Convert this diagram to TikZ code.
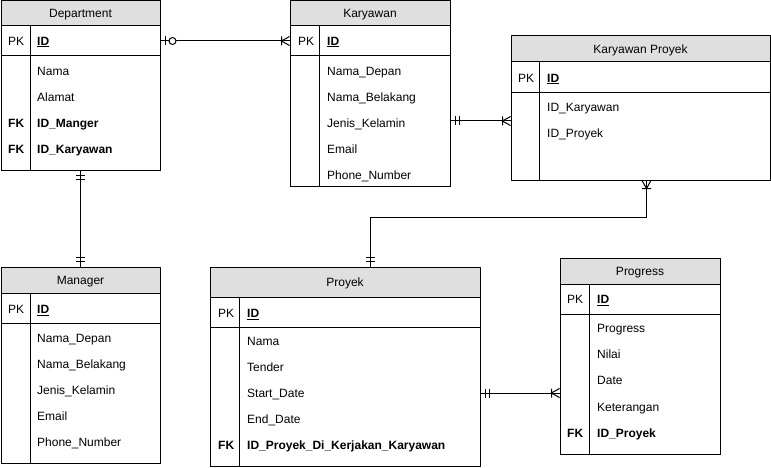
\documentclass[tikz,border=0pt]{standalone}
\usepackage{fontspec}
\setmainfont{Liberation Sans}
\usetikzlibrary{positioning,decorations.markings}

\begin{document}
\begin{tikzpicture}[x=1pt, y=-1pt, every node/.style={
    rectangle,
    inner sep=0pt,
    font=\fontsize{12}{14}\selectfont
},
tablehead/.style={draw, line width=1pt, fill=gray!25, text height=8.6pt, text depth=0pt},
tablebox/.style={draw, line width=1pt, fill=white},
field/.style={anchor=west, text height=8.6pt, text depth=0pt},
relline/.style={draw, line width=1pt},
onestart/.style={postaction={decorate, decoration={markings, mark=at position 0 with {\draw[line width=1pt] (5pt,-4.5pt) -- (5pt,4.5pt) (9pt,-4.5pt) -- (9pt,4.5pt);}}}},
oneend/.style={postaction={decorate, decoration={markings, mark=at position 1 with {\draw[line width=1pt] (-5pt,-4.5pt) -- (-5pt,4.5pt) (-9pt,-4.5pt) -- (-9pt,4.5pt);}}}},
zeroonestart/.style={postaction={decorate, decoration={markings, mark=at position 0 with {\draw[line width=1pt] (5pt,-4.5pt) -- (5pt,4.5pt); \draw[line width=1pt, fill=white] (12pt,0pt) circle (3.5pt);}}}},
manyend/.style={postaction={decorate, decoration={markings, mark=at position 1 with {\draw[line width=1pt] (-8pt,-4.5pt) -- (-8pt,4.5pt) (0pt,-4.5pt) -- (-8pt,0pt) -- (0pt,4.5pt);}}}},
manystart/.style={postaction={decorate, decoration={markings, mark=at position 0 with {\draw[line width=1pt] (8pt,-4.5pt) -- (8pt,4.5pt) (0pt,-4.5pt) -- (8pt,0pt) -- (0pt,4.5pt);}}}}
]
    \useasboundingbox (0,0) rectangle (771,468);

    %department
    \node (dept_head) [tablehead, minimum width=159pt, minimum height=25.5pt, shift={(80.5,13.25)}]
    {
        Department
    };
    \node (dept_pk) [tablebox, minimum width=159pt, minimum height=30pt, shift={(80.5,41)}] {};
    \node (dept_body) [tablebox, minimum width=159pt, minimum height=114pt, shift={(80.5,113)}] {};
    \draw[line width=1pt] ([xshift=30pt]dept_pk.north west) -- ([xshift=30pt]dept_body.south west);
    \node (dept_pk_key) [field, shift={(8,41)}] {PK};
    \node (dept_id) [field, shift={(37,41)}] {\textbf{\underline{ID}}};
    \node (dept_nama) [field, shift={(37,71)}] {Nama};
    \node (dept_alamat) [field, shift={(37,97)}] {Alamat};
    \node (dept_fk1) [field, shift={(8,123)}] {\textbf{FK}};
    \node (dept_manager) [field, shift={(37,123)}] {\textbf{ID\_Manger}};
    \node (dept_fk2) [field, shift={(8,149)}] {\textbf{FK}};
    \node (dept_karyawan) [field, shift={(37,149)}] {\textbf{ID\_Karyawan}};

    %karyawan
    \node (kary_head) [tablehead, minimum width=160pt, minimum height=25.5pt, shift={(370,13.25)}]
    {
        Karyawan
    };
    \node (kary_pk) [tablebox, minimum width=160pt, minimum height=30pt, shift={(370,41)}] {};
    \node (kary_body) [tablebox, minimum width=160pt, minimum height=130pt, shift={(370,121)}] {};
    \draw[line width=1pt] ([xshift=30pt]kary_pk.north west) -- ([xshift=30pt]kary_body.south west);
    \node (kary_pk_key) [field, shift={(298,41)}] {PK};
    \node (kary_id) [field, shift={(327,41)}] {\textbf{\underline{ID}}};
    \node (kary_depan) [field, shift={(327,71)}] {Nama\_Depan};
    \node (kary_belakang) [field, shift={(327,97)}] {Nama\_Belakang};
    \node (kary_kelamin) [field, shift={(327,123)}] {Jenis\_Kelamin};
    \node (kary_email) [field, shift={(327,149)}] {Email};
    \node (kary_phone) [field, shift={(327,175)}] {Phone\_Number};

    %karyawan proyek
    \node (kp_head) [tablehead, minimum width=259pt, minimum height=26pt, shift={(640.5,49)}]
    {
        Karyawan Proyek
    };
    \node (kp_pk) [tablebox, minimum width=259pt, minimum height=31pt, shift={(640.5,77.5)}] {};
    \node (kp_body) [tablebox, minimum width=259pt, minimum height=87pt, shift={(640.5,136.5)}] {};
    \draw[line width=1pt] ([xshift=29pt]kp_pk.north west) -- ([xshift=29pt]kp_body.south west);
    \node (kp_pk_key) [field, shift={(518,78)}] {PK};
    \node (kp_id) [field, shift={(547,78)}] {\textbf{\underline{ID}}};
    \node (kp_karyawan) [field, shift={(547,107)}] {ID\_Karyawan};
    \node (kp_proyek) [field, shift={(547,133)}] {ID\_Proyek};

    %manager
    \node (mgr_head) [tablehead, minimum width=159pt, minimum height=26pt, shift={(80.5,280)}]
    {
        Manager
    };
    \node (mgr_pk) [tablebox, minimum width=159pt, minimum height=30pt, shift={(80.5,308)}] {};
    \node (mgr_body) [tablebox, minimum width=159pt, minimum height=140pt, shift={(80.5,393)}] {};
    \draw[line width=1pt] ([xshift=30pt]mgr_pk.north west) -- ([xshift=30pt]mgr_body.south west);
    \node (mgr_pk_key) [field, shift={(8,309)}] {PK};
    \node (mgr_id) [field, shift={(37,309)}] {\textbf{\underline{ID}}};
    \node (mgr_depan) [field, shift={(37,338)}] {Nama\_Depan};
    \node (mgr_belakang) [field, shift={(37,364)}] {Nama\_Belakang};
    \node (mgr_kelamin) [field, shift={(37,390)}] {Jenis\_Kelamin};
    \node (mgr_email) [field, shift={(37,416)}] {Email};
    \node (mgr_phone) [field, shift={(37,442)}] {Phone\_Number};

    %proyek
    \node (proyek_head) [tablehead, minimum width=270pt, minimum height=30pt, shift={(345,282)}]
    {
        Proyek
    };
    \node (proyek_pk) [tablebox, minimum width=270pt, minimum height=30pt, shift={(345,312)}] {};
    \node (proyek_body) [tablebox, minimum width=270pt, minimum height=139pt, shift={(345,396.5)}] {};
    \draw[line width=1pt] ([xshift=30pt]proyek_pk.north west) -- ([xshift=30pt]proyek_body.south west);
    \node (proyek_pk_key) [field, shift={(218,313)}] {PK};
    \node (proyek_id) [field, shift={(247,313)}] {\textbf{\underline{ID}}};
    \node (proyek_nama) [field, shift={(247,341)}] {Nama};
    \node (proyek_tender) [field, shift={(247,367)}] {Tender};
    \node (proyek_start) [field, shift={(247,393)}] {Start\_Date};
    \node (proyek_end) [field, shift={(247,419)}] {End\_Date};
    \node (proyek_fk) [field, shift={(218,445)}] {\textbf{FK}};
    \node (proyek_karyawan) [field, shift={(247,445)}] {\textbf{ID\_Proyek\_Di\_Kerjakan\_Karyawan}};

    %progress
    \node (prog_head) [tablehead, minimum width=160pt, minimum height=26pt, shift={(640,271)}]
    {
        Progress
    };
    \node (prog_pk) [tablebox, minimum width=160pt, minimum height=30pt, shift={(640,299)}] {};
    \node (prog_body) [tablebox, minimum width=160pt, minimum height=140pt, shift={(640,384)}] {};
    \draw[line width=1pt] ([xshift=30pt]prog_pk.north west) -- ([xshift=30pt]prog_body.south west);
    \node (prog_pk_key) [field, shift={(567,299)}] {PK};
    \node (prog_id) [field, shift={(597,299)}] {\textbf{\underline{ID}}};
    \node (prog_progress) [field, shift={(597,328)}] {Progress};
    \node (prog_nilai) [field, shift={(597,354)}] {Nilai};
    \node (prog_date) [field, shift={(597,380)}] {Date};
    \node (prog_ket) [field, shift={(597,407)}] {Keterangan};
    \node (prog_fk) [field, shift={(567,433)}] {\textbf{FK}};
    \node (prog_proyek) [field, shift={(597,433)}] {\textbf{ID\_Proyek}};

    %relations
    \coordinate (kp_bend) at (370,217);

    \draw[relline, zeroonestart, manyend] (dept_pk.east) -- (kary_pk.west);
    \draw[relline, onestart, oneend] (dept_body.south) -- (mgr_head.north);
    \draw[relline, onestart, manyend] (kary_body.east) -- (kary_body.east -| kp_body.west);
    \draw[relline, manystart, oneend] ([xshift=6pt]kp_body.south) |- (kp_bend) -- (kp_bend |- proyek_head.north);
    \draw[relline, onestart, manyend] (proyek_body.east |- proyek_start) -- (prog_body.west |- proyek_start);

\end{tikzpicture}
\end{document}
